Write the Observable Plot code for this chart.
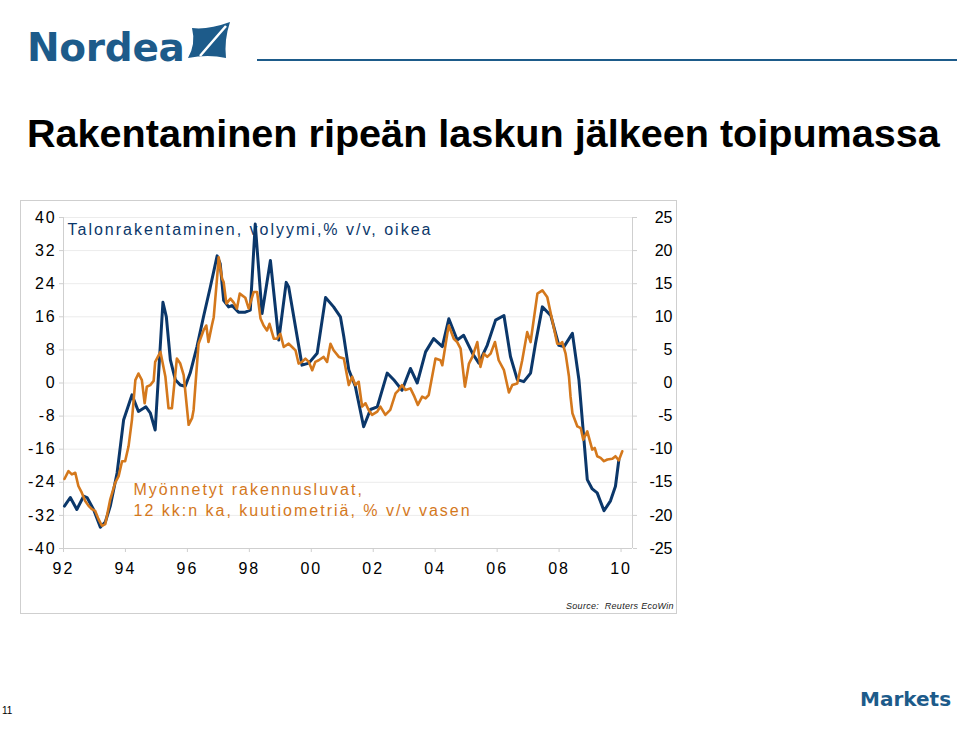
<!DOCTYPE html>
<html>
<head>
<meta charset="utf-8">
<script src="https://cdn.jsdelivr.net/npm/d3@7"></script>
<script src="https://cdn.jsdelivr.net/npm/@observablehq/plot@0.6"></script>
<style>
  html, body { margin: 0; padding: 0; background: #fff; }
  #page { position: relative; width: 960px; height: 740px; overflow: hidden; background: #fff; font-family: "Liberation Sans", Arial, sans-serif; }
  .abs { position: absolute; white-space: nowrap; }
  #logo { left: 27px; top: 25px; font-family: "DejaVu Sans", sans-serif; font-weight: bold; font-size: 39px; color: #1d5b8a; letter-spacing: -0.3px; }
  #rule { left: 257px; top: 59px; width: 700px; height: 2px; background: #1d5b8a; }
  #title { left: 27px; top: 111px; font-weight: bold; font-size: 39.6px; color: #000; }
  #box { left: 20px; top: 200px; width: 655px; height: 412px; border: 1px solid #cfcfcf; }
  #source { left: 566px; top: 601px; font-style: italic; font-size: 9px; color: #222; letter-spacing: 0.3px; }
  #pagenum { left: 2px; top: 705px; font-size: 10px; color: #000; }
  #markets { left: 860px; top: 687px; font-family: "DejaVu Sans", sans-serif; font-weight: bold; font-size: 20px; color: #1d5b8a; }
  #chart { position: absolute; left: 20px; top: 200px; }
  #chart g[aria-label="y-axis tick label"] text { letter-spacing: 1.8px; }
  #chart g[aria-label="right-tick-label"] text { letter-spacing: 2.2px; }
  #chart g[aria-label="x-axis tick label"] text { letter-spacing: 2px; }
</style>
</head>
<body>
<div id="page">
  <div class="abs" id="logo">Nordea</div>
  <svg class="abs" style="left:186px;top:20px" width="48" height="42" viewBox="0 0 48 42">
    <path d="M6 8 Q22 10 44 2 Q38 20 40 38 Q22 34 2 38 Q10 24 6 8 Z" fill="#1d5b8a"/>
    <path d="M14 36 Q26 22 40 6" stroke="#fff" stroke-width="2.5" fill="none"/>
  </svg>
  <div class="abs" id="rule"></div>
  <div class="abs" id="title">Rakentaminen ripeän laskun jälkeen toipumassa</div>
  <div class="abs" id="box"></div>
  <div id="chart"></div>
  <div class="abs" id="source">Source:&nbsp; Reuters EcoWin</div>
  <div class="abs" id="pagenum">11</div>
  <div class="abs" id="markets">Markets</div>
</div>
<script>
// ---- Data ----
// Talonrakentaminen, volyymi, % v/v (right axis)
const blueYears = [1992.03,1992.22,1992.43,1992.65,1992.76,1992.97,1993.19,1993.35,1993.51,1993.73,1993.94,1994.21,1994.42,1994.66,1994.80,1994.96,1995.21,1995.32,1995.45,1995.61,1995.77,1995.93,1996.09,1996.31,1996.52,1996.74,1996.96,1997.06,1997.17,1997.33,1997.44,1997.65,1997.87,1998.03,1998.19,1998.41,1998.68,1998.95,1999.19,1999.27,1999.70,1999.92,2000.19,2000.46,2000.72,2000.94,2001.05,2001.21,2001.42,2001.69,2001.91,2002.13,2002.45,2002.66,2002.93,2003.20,2003.42,2003.69,2003.95,2004.23,2004.44,2004.71,2004.92,2005.20,2005.41,2005.68,2005.95,2006.22,2006.43,2006.65,2006.86,2007.08,2007.24,2007.46,2007.73,2007.99,2008.16,2008.43,2008.64,2008.91,2009.07,2009.23,2009.45,2009.66,2009.82,2009.93];
const blueValues = [-18.6,-17.3,-19.1,-17.1,-17.3,-19.1,-21.8,-21.0,-18.6,-13.6,-5.6,-1.8,-4.3,-3.6,-4.5,-7.1,12.2,10.0,3.5,0.5,-0.3,-0.5,1.5,5.5,10.0,14.5,19.2,18.0,12.5,11.5,11.7,10.7,10.7,11.0,24.0,10.5,18.5,6.5,15.2,14.5,2.7,3.0,4.5,12.9,11.5,10.0,7.0,2.0,-0.5,-6.6,-4.0,-3.6,1.5,0.5,-1.1,2.2,0.0,4.7,6.7,5.5,9.7,6.5,7.2,4.5,3.0,5.7,9.5,10.2,4.0,0.5,0.2,1.5,6.0,11.5,10.2,5.7,5.5,7.5,0.5,-14.6,-16.0,-16.6,-19.3,-17.8,-15.6,-11.6];

// Myönnetyt rakennusluvat, 12 kk:n ka, kuutiometriä, % v/v (left axis)
const orangeYears = [1992.03,1992.16,1992.27,1992.38,1992.48,1992.59,1992.70,1992.81,1992.92,1993.02,1993.13,1993.24,1993.35,1993.51,1993.67,1993.78,1993.89,1993.99,1994.10,1994.21,1994.32,1994.42,1994.53,1994.62,1994.69,1994.80,1994.91,1994.96,1995.13,1995.29,1995.39,1995.50,1995.66,1995.77,1995.88,1996.04,1996.15,1996.20,1996.36,1996.52,1996.61,1996.68,1996.79,1996.85,1996.96,1997.01,1997.12,1997.17,1997.26,1997.39,1997.49,1997.60,1997.69,1997.87,1997.98,1998.14,1998.25,1998.36,1998.46,1998.57,1998.65,1998.79,1998.89,1999.00,1999.11,1999.27,1999.38,1999.49,1999.59,1999.70,1999.81,1999.92,2000.03,2000.13,2000.24,2000.40,2000.51,2000.62,2000.72,2000.89,2001.05,2001.21,2001.32,2001.42,2001.53,2001.64,2001.75,2001.85,2001.96,2002.13,2002.23,2002.39,2002.55,2002.72,2002.82,2002.93,2003.04,2003.20,2003.33,2003.44,2003.58,2003.69,2003.79,2003.90,2004.01,2004.17,2004.23,2004.39,2004.44,2004.60,2004.71,2004.82,2004.96,2005.09,2005.20,2005.36,2005.46,2005.57,2005.68,2005.79,2005.93,2006.05,2006.22,2006.38,2006.49,2006.65,2006.81,2006.97,2007.08,2007.30,2007.46,2007.62,2007.78,2007.94,2008.05,2008.10,2008.21,2008.32,2008.37,2008.43,2008.59,2008.70,2008.78,2008.91,2009.07,2009.15,2009.23,2009.34,2009.45,2009.56,2009.72,2009.82,2009.93,2010.04];
const orangeValues = [-23.2,-21.3,-22.1,-21.7,-24.9,-26.5,-28.5,-29.7,-30.5,-30.9,-32.9,-34.5,-34.1,-28.1,-24.1,-22.5,-18.9,-18.9,-15.3,-8.9,0.7,2.3,0.7,-4.9,-0.9,-0.5,0.5,5.1,7.5,1.5,-6.1,-6.1,5.9,4.7,1.9,-10.1,-8.5,-6.5,9.5,12.7,13.9,9.9,13.9,15.9,25.6,30.4,25.2,24.4,19.2,20.4,19.5,18.0,21.6,20.6,18.0,22.0,22.0,15.6,13.9,12.7,14.3,10.7,10.7,11.9,8.7,9.5,8.7,7.9,4.7,5.1,5.9,5.1,3.1,5.1,5.5,6.3,5.1,9.5,7.9,6.3,5.9,-0.5,1.5,-0.5,0.3,-5.7,-4.9,-6.5,-7.7,-6.9,-5.7,-7.7,-6.5,-2.5,-1.7,-0.5,-1.7,-1.3,-3.3,-5.3,-3.3,-3.7,-2.9,1.5,5.9,5.5,4.3,11.9,13.9,10.7,9.9,8.3,-0.9,4.7,6.3,9.9,3.9,7.1,6.3,7.1,9.9,5.5,3.1,-2.3,-0.5,-0.1,5.5,12.3,9.9,21.6,22.4,20.7,15.1,9.5,9.5,9.9,7.1,1.5,-3.3,-7.3,-10.5,-10.9,-13.7,-11.7,-16.1,-15.7,-17.7,-18.1,-18.9,-18.5,-18.3,-17.7,-18.7,-16.5];

const leftTicks = [-40, -32, -24, -16, -8, 0, 8, 16, 24, 32, 40];
const rightTicks = [-25, -20, -15, -10, -5, 0, 5, 10, 15, 20, 25];
const xTicks = [1992, 1994, 1996, 1998, 2000, 2002, 2004, 2006, 2008, 2010];
const xTickLabels = ["92", "94", "96", "98", "00", "02", "04", "06", "08", "10"];
const xDomain = [1992, 2010.37];
const blueLabel = "Talonrakentaminen, volyymi,% v/v, oikea";
const orangeLabel = "Myönnetyt rakennusluvat,\n12 kk:n ka, kuutiometriä, % v/v vasen";

const BLUE = "#0b376a";
const ORANGE = "#d4781c";
const ratio = 40 / 25; // left units per right unit

const blue = blueYears.map((t, i) => ({t, v: blueValues[i] * ratio}));
const orange = orangeYears.map((t, i) => ({t, v: orangeValues[i]}));

const chart = Plot.plot({
  width: 656,
  height: 413,
  marginLeft: 43,
  marginRight: 44,
  marginTop: 17,
  marginBottom: 65,
  style: {fontFamily: "'Liberation Sans', Arial, sans-serif", fontSize: "16px", color: "#000", background: "transparent", overflow: "visible"},
  x: {domain: xDomain, axis: null},
  y: {domain: [-40, 40], axis: null},
  marks: [
    Plot.gridY(leftTicks, {stroke: "#ececec", strokeOpacity: 1}),
    Plot.ruleX([xDomain[0], xDomain[1]], {stroke: "#cfcfcf"}),
    Plot.ruleY([-40], {stroke: "#cfcfcf"}),
    Plot.axisY(leftTicks, {anchor: "left", label: null, tickSize: 4, tickPadding: 3, stroke: "#cfcfcf", fill: "#000", fontSize: 16, tickFormat: d => String(d)}),
    Plot.axisY(rightTicks.map(d => d * ratio), {anchor: "right", label: null, tickSize: 4, tickFormat: () => "", stroke: "#cfcfcf"}),
    Plot.text(rightTicks, {ariaLabel: "right-tick-label", y: d => d * ratio, text: d => String(d), frameAnchor: "right", textAnchor: "end", dx: 40, fill: "#000", fontSize: 16}),
    Plot.axisX(xTicks, {anchor: "bottom", label: null, tickSize: 4, tickPadding: 10, stroke: "#cfcfcf", fill: "#000", fontSize: 16, tickFormat: (d, i) => xTickLabels[i]}),
    Plot.line(blue, {x: "t", y: "v", stroke: BLUE, strokeWidth: 3, strokeLinejoin: "round"}),
    Plot.line(orange, {x: "t", y: "v", stroke: ORANGE, strokeWidth: 2.6, strokeLinejoin: "round"}),
    Plot.text([blueLabel], {text: d => d, frameAnchor: "top-left", textAnchor: "start", lineAnchor: "top", dx: 4, dy: 6, fill: BLUE, fontSize: 16}),
    Plot.text([orangeLabel], {text: d => d, frameAnchor: "top-left", textAnchor: "start", lineAnchor: "top", dx: 70, dy: 263, lineHeight: 1.3, fill: ORANGE, fontSize: 16})
  ]
});
// widen the letter spacing of the two series labels, as in the original
d3.select(chart).selectAll("text")
  .filter(function () { return /Talonrakentaminen|Myönnetyt/.test(this.textContent); })
  .style("letter-spacing", "2px");
document.getElementById("chart").appendChild(chart);
</script>
</body>
</html>
